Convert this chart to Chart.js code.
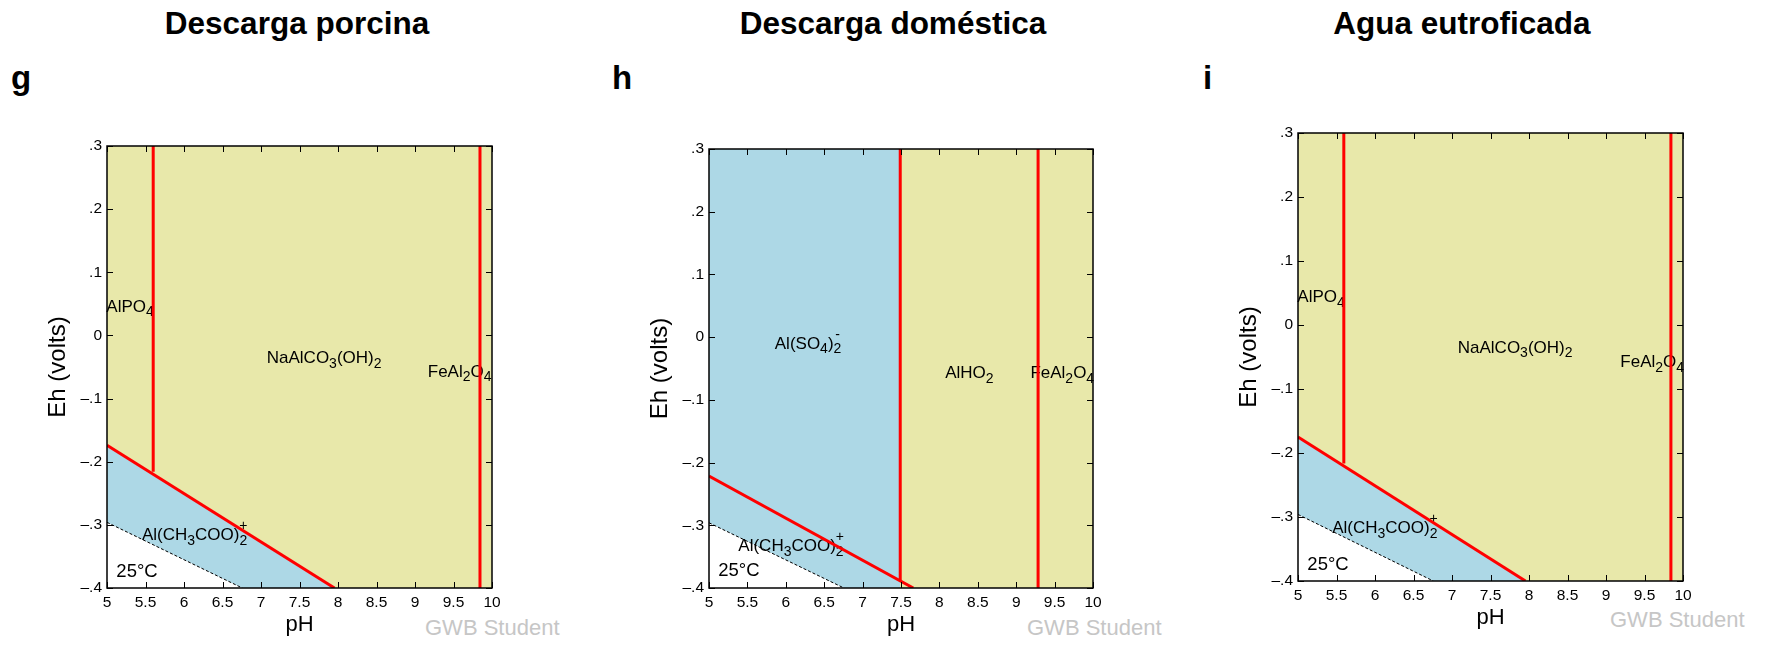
<!DOCTYPE html>
<html><head><meta charset="utf-8">
<script src="https://cdn.jsdelivr.net/npm/chart.js@4/dist/chart.umd.min.js"></script>
<style>
html,body{margin:0;padding:0;background:#fff;overflow:hidden;width:1770px;height:645px;}
body{position:relative;font-family:"Liberation Sans",Arial,sans-serif;color:#000;}
.t{position:absolute;font-weight:bold;font-size:31.5px;line-height:30px;width:500px;text-align:center;white-space:nowrap;}
.l{position:absolute;font-weight:bold;font-size:33px;line-height:33px;}
.w{position:absolute;font-size:22px;line-height:21px;color:#c6c6c6;white-space:nowrap;}
canvas{position:absolute;}
</style></head><body>
<script>
// ---- data ----
const titles = ["Descarga porcina", "Descarga doméstica", "Agua eutroficada"];
const letters = ["g", "h", "i"];
const xTickValues = [5, 5.5, 6, 6.5, 7, 7.5, 8, 8.5, 9, 9.5, 10];
const yTickValues = [-0.4, -0.3, -0.2, -0.1, 0, 0.1, 0.2, 0.3];
const xTitle = "pH";
const yTitle = "Eh (volts)";
const watermark = "GWB Student";

const topEdge = [[5, 0.3], [10, 0.3]];
const waterLine = [[5, -0.296], [6.757, -0.4]];

const gSlope = [[5, -0.174], [7.954, -0.4]];
const gVert1 = [[5.60, 0.3], [5.60, -0.216]];
const gVert2 = [[9.844, 0.3], [9.844, -0.4]];
const gLabels = [["AlPO_4", 5.30, 0.047], ["NaAlCO_3(OH)_2", 7.82, -0.034], ["FeAl_2O_4", 9.58, -0.056], ["Al(CH_3COO)_2^+", 6.14, -0.315], ["25°C", 5.39, -0.372]];

const hSlope = [[5, -0.2215], [7.66, -0.4]];
const hVert1 = [[7.49, 0.3], [7.49, -0.388]];
const hVert2 = [[9.285, 0.3], [9.285, -0.4]];
const hBlue = [[5, 0.3], [7.49, 0.3], [7.49, -0.4]];
const hLabels = [["Al(SO_4)_2^-", 6.29, -0.009], ["AlHO_2", 8.39, -0.056], ["FeAl_2O_4", 9.60, -0.056], ["Al(CH_3COO)_2^+", 6.07, -0.332], ["25°C", 5.39, -0.371]];

const iSlope = [[5, -0.175], [7.954, -0.4]];
const iVert1 = [[5.595, 0.3], [5.595, -0.2165]];
const iVert2 = [[9.843, 0.3], [9.843, -0.4]];
const iLabels = [["AlPO_4", 5.30, 0.045], ["NaAlCO_3(OH)_2", 7.82, -0.034], ["FeAl_2O_4", 9.60, -0.056], ["Al(CH_3COO)_2^+", 6.13, -0.316], ["25°C", 5.39, -0.372]];

// ---- layout / style ----
const YELLOW = "#e8e8aa", BLUE = "#add8e6", RED = "#ff0000";
const FAM = '"Liberation Sans", Arial, sans-serif';
const boxes = [{left:107, top:146, w:385, h:442}, {left:709, top:149, w:384, h:439}, {left:1298, top:133, w:385, h:448}];
const titleCx = [297, 893, 1462];
const letterX = [11, 612, 1203];
const wmPos = [[425, 617], [1027, 617], [1610, 609]];

Chart.defaults.font.family = FAM;
Chart.defaults.color = "#000";

titles.forEach((t, i) => {
  const d = document.createElement("div"); d.className = "t"; d.textContent = t;
  d.style.left = (titleCx[i] - 250) + "px"; d.style.top = "8px"; document.body.appendChild(d);
  const l = document.createElement("div"); l.className = "l"; l.textContent = letters[i];
  l.style.left = letterX[i] + "px"; l.style.top = "61px"; document.body.appendChild(l);
  const w = document.createElement("div"); w.className = "w"; w.textContent = watermark;
  w.style.left = wmPos[i][0] + "px"; w.style.top = wmPos[i][1] + "px"; document.body.appendChild(w);
});

function drawFormula(ctx, cx, cy, str, size) {
  const segs = [];
  for (let i = 0; i < str.length; i++) {
    const c = str[i];
    if ((c === "_" || c === "^") && i + 1 < str.length) { segs.push({t: str[i + 1], k: c === "_" ? 1 : 2}); i++; }
    else if (segs.length && segs[segs.length - 1].k === 0) segs[segs.length - 1].t += c;
    else segs.push({t: c, k: 0});
  }
  const font = k => (k === 0 ? size : Math.round(size * 0.8)) + "px " + FAM;
  let x = 0, lastSub = null; const items = [];
  for (const s of segs) {
    ctx.font = font(s.k);
    const w = ctx.measureText(s.t).width;
    if (s.k === 2 && lastSub) {
      items.push({s, x: lastSub.x + (lastSub.w - w) / 2});
      x = Math.max(x, lastSub.x + Math.max(w, lastSub.w));
      lastSub = null;
    } else {
      items.push({s, x});
      if (s.k === 1) lastSub = {x, w}; else lastSub = null;
      x += w;
    }
  }
  const x0 = cx - x / 2, base = cy + 0.36 * size;
  ctx.textAlign = "left"; ctx.textBaseline = "alphabetic"; ctx.fillStyle = "#000";
  for (const it of items) {
    ctx.font = font(it.s.k);
    const dy = it.s.k === 1 ? 0.27 * size : it.s.k === 2 ? -0.6 * size : 0;
    ctx.fillText(it.s.t, x0 + it.x, base + dy);
  }
}

function ds(points, opts) {
  return Object.assign({data: points.map(([x, y]) => ({x, y})), showLine: true, pointRadius: 0, pointHoverRadius: 0,
    borderWidth: 0, borderColor: "rgba(0,0,0,0)", fill: false, tension: 0}, opts);
}

function makePanel(idx, datasets, labels, labelAfterIndex) {
  const b = boxes[idx];
  const cv = document.createElement("canvas");
  const W = b.w + 120, H = b.h + 20 + 52;
  cv.width = W; cv.height = H;
  cv.style.left = (b.left - 100) + "px"; cv.style.top = (b.top - 20) + "px";
  cv.style.width = W + "px"; cv.style.height = H + "px";
  document.body.appendChild(cv);
  const plugin = {
    id: "frame" + idx,
    afterDatasetDraw(chart, args) {
      if (args.index !== labelAfterIndex) return;
      const {ctx, scales: {x, y}} = chart;
      ctx.save();
      for (const [t, px, ey] of labels) drawFormula(ctx, x.getPixelForValue(px), y.getPixelForValue(ey), t, t === "25°C" ? 18.5 : 17);
      ctx.restore();
    },
    afterDatasetsDraw(chart) {
      const {ctx, chartArea: a, scales: {x, y}} = chart;
      ctx.save();
      ctx.strokeStyle = "#000"; ctx.lineWidth = 1; ctx.beginPath();
      for (const v of xTickValues) {
        const px = Math.round(x.getPixelForValue(v)) + 0.5;
        ctx.moveTo(px, a.bottom); ctx.lineTo(px, a.bottom - 6);
        ctx.moveTo(px, a.top); ctx.lineTo(px, a.top + 6);
      }
      for (const v of yTickValues) {
        const py = Math.round(y.getPixelForValue(v)) + 0.5;
        ctx.moveTo(a.left, py); ctx.lineTo(a.left + 6, py);
        ctx.moveTo(a.right, py); ctx.lineTo(a.right - 6, py);
      }
      ctx.stroke();
      ctx.lineWidth = 1.5;
      ctx.strokeRect(a.left, a.top, a.right - a.left, a.bottom - a.top);
      ctx.restore();
    }
  };
  new Chart(cv, {
    type: "scatter",
    data: {datasets},
    plugins: [plugin],
    options: {
      responsive: false, animation: false, events: [], devicePixelRatio: 1,
      layout: {padding: {top: 20, right: 20, left: 0, bottom: 0}},
      plugins: {legend: {display: false}, tooltip: {enabled: false}},
      scales: {
        x: {
          type: "linear", min: 5, max: 10,
          afterBuildTicks: s => { s.ticks = xTickValues.map(v => ({value: v})); },
          afterFit: s => { s.height = 52; },
          grid: {display: false, drawTicks: false}, border: {display: false},
          ticks: {autoSkip: false, maxRotation: 0, padding: 5, font: {size: 15.5}, color: "#000",
            callback: v => String(Math.round(v * 10) / 10)},
          title: {display: true, text: xTitle, font: {size: 22}, color: "#000", padding: {top: 0, bottom: 2}}
        },
        y: {
          type: "linear", min: -0.4, max: 0.3,
          afterBuildTicks: s => { s.ticks = yTickValues.map(v => ({value: v})); },
          afterFit: s => { s.width = 100; },
          grid: {display: false, drawTicks: false}, border: {display: false},
          ticks: {padding: 5, font: {size: 15.5}, color: "#000",
            callback: v => { const r = Math.round(v * 10) / 10; if (r === 0) return "0";
              const s = Math.abs(r).toString().replace(/^0/, ""); return (r < 0 ? "\u2013" : "") + s; }},
          title: {display: true, text: yTitle, font: {size: 24}, color: "#000", padding: {top: 37, bottom: 0}}
        }
      }
    }
  });
}

function standardSets(slope, vert1, vert2, blue) {
  return [
    ds(topEdge, {fill: "start", backgroundColor: YELLOW, order: 10}),
    ds(blue, {fill: "start", backgroundColor: BLUE, order: 9}),
    ds(waterLine, {fill: "start", backgroundColor: "#ffffff", order: 8}),
    ds(waterLine, {borderColor: "#000", borderWidth: 1, borderDash: [3, 2], order: 3}),
    ds(slope, {borderColor: RED, borderWidth: 3, order: 1}),
    ds(vert1, {borderColor: RED, borderWidth: 3, order: 1}),
    ds(vert2, {borderColor: RED, borderWidth: 3, order: 1})
  ];
}

makePanel(0, standardSets(gSlope, gVert1, gVert2, gSlope), gLabels, 2);
makePanel(1, standardSets(hSlope, hVert1, hVert2, hBlue), hLabels, 2);
makePanel(2, standardSets(iSlope, iVert1, iVert2, iSlope), iLabels, 2);
</script>
</body></html>
